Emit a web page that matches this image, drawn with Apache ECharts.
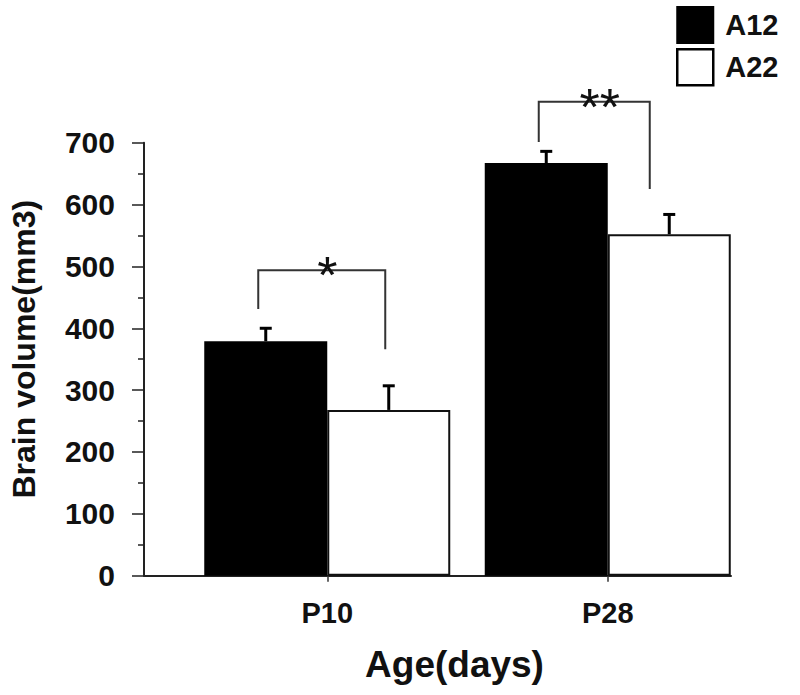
<!DOCTYPE html>
<html>
<head>
<meta charset="utf-8">
<script src="https://cdn.jsdelivr.net/npm/echarts@6/dist/echarts.min.js"></script>
<style>html,body{margin:0;padding:0;background:#fff;}#chart{width:800px;height:695px;}</style>
</head>
<body>
<div id="chart"></div>
<script>
// ---- data ----
var categories = ['P10', 'P28'];
var seriesNames = ['A12', 'A22'];
var a12Values = [379, 667];
var a22Values = [268, 552];
var a12Errors = [21, 19];
var a22Errors = [39, 32];
var yTicks = [0, 100, 200, 300, 400, 500, 600, 700];
// significance brackets: top, left-leg end, right-leg end (in mm3 units)
var bracketTop = [494, 766];
var bracketLeftEnd = [431, 701];
var bracketRightEnd = [366, 625];
var bracketStars = ['*', '**'];

// ---- layout / style config ----
var FONT = '"Liberation Sans", Arial, sans-serif';
var BAR_W = 123;
var GRID_TOP = 142.7, GRID_BOTTOM = 119.3;
var bracketLegOffsets = [[-69, 58], [-69, 42]]; // px from category centre
var starOffsets = [0, -8];

var chart = echarts.init(document.getElementById('chart'), null, {renderer: 'svg'});

function errRender(sign) {
  return function (params, api) {
    var c = api.coord([api.value(0), api.value(1)]);
    var t = api.coord([api.value(0), api.value(1) + api.value(2)]);
    var x = c[0] + sign * BAR_W / 2;
    return {
      type: 'group',
      children: [
        {type: 'line', shape: {x1: x, y1: c[1], x2: x, y2: t[1]}, style: {stroke: '#000', lineWidth: 3}},
        {type: 'line', shape: {x1: x - 6, y1: t[1], x2: x + 6, y2: t[1]}, style: {stroke: '#000', lineWidth: 3}}
      ]
    };
  };
}

function bracketRender(params, api) {
  var i = params.dataIndex;
  var cat = api.value(0);
  var top = api.coord([cat, api.value(1)]);
  var le = api.coord([cat, api.value(2)]);
  var re = api.coord([cat, api.value(3)]);
  var xl = top[0] + bracketLegOffsets[i][0];
  var xr = top[0] + bracketLegOffsets[i][1];
  return {
    type: 'group',
    children: [
      {type: 'polyline', shape: {points: [[xl, le[1]], [xl, top[1]], [xr, top[1]], [xr, re[1]]]},
        style: {stroke: '#333', lineWidth: 2, fill: null}},
      {type: 'text', style: {text: bracketStars[i], x: top[0] + starOffsets[i], y: top[1] + 5,
        align: 'center', verticalAlign: 'middle', font: 'normal 52px ' + FONT, fill: '#111'}}
    ]
  };
}

var option = {
  backgroundColor: '#fff',
  animation: false,
  legend: {
    left: 676, top: 6, padding: 0, orient: 'vertical',
    itemWidth: 36, itemHeight: 36, itemGap: 4,
    icon: 'rect',
    textStyle: {fontFamily: FONT, fontSize: 29, fontWeight: 'bold', color: '#111', padding: [0, 0, 0, 7]},
    data: [
      {name: seriesNames[0], itemStyle: {color: '#000', borderColor: '#000', borderWidth: 2}},
      {name: seriesNames[1], itemStyle: {color: '#fff', borderColor: '#000', borderWidth: 2.5}}
    ]
  },
  grid: [
    {left: 187, right: 52, top: GRID_TOP, bottom: GRID_BOTTOM},
    {left: 141, right: 69, top: GRID_TOP, bottom: GRID_BOTTOM}
  ],
  xAxis: [
    {
      type: 'category', gridIndex: 0, data: categories,
      axisLine: {show: false},
      axisTick: {show: true, alignWithLabel: true, length: 6, lineStyle: {color: '#333', width: 1.5}},
      axisLabel: {fontFamily: FONT, fontSize: 29, fontWeight: 'bold', color: '#111', margin: 23},
      name: 'Age(days)', nameLocation: 'middle', nameGap: 70,
      nameTextStyle: {fontFamily: FONT, fontSize: 37, fontWeight: 'bold', color: '#111', padding: [0, 26, 0, 0]}
    },
    {
      type: 'value', gridIndex: 1, min: 0, max: 1,
      axisLine: {show: true, lineStyle: {color: '#222', width: 2}},
      axisTick: {show: false}, axisLabel: {show: false}, splitLine: {show: false}
    }
  ],
  yAxis: [
    {
      type: 'value', gridIndex: 0, min: 0, max: 700, interval: 100,
      show: false, splitLine: {show: false}
    },
    {
      type: 'value', gridIndex: 1, min: yTicks[0], max: yTicks[yTicks.length - 1], interval: 100,
      axisLine: {show: true, lineStyle: {color: '#222', width: 2}},
      axisTick: {show: true, length: 12, lineStyle: {color: '#222', width: 1.5}},
      minorTick: {show: true, splitNumber: 2, length: 6, lineStyle: {color: '#222', width: 1.5}},
      splitLine: {show: false},
      axisLabel: {fontFamily: FONT, fontSize: 30, fontWeight: 'bold', color: '#111', margin: 29, padding: [10, 0, 0, 0]},
      name: 'Brain volume(mm3)', nameLocation: 'middle', nameGap: 104, nameRotate: 90,
      nameTextStyle: {fontFamily: FONT, fontSize: 32, fontWeight: 'bold', color: '#111', padding: [0, 0, 0, 20]}
    }
  ],
  series: [
    {
      name: seriesNames[0], type: 'bar', xAxisIndex: 0, yAxisIndex: 0,
      data: a12Values, barWidth: BAR_W, barGap: '0%',
      itemStyle: {color: '#000', borderColor: '#000', borderWidth: 0}
    },
    {
      name: seriesNames[1], type: 'bar', xAxisIndex: 0, yAxisIndex: 0,
      data: a22Values, barWidth: BAR_W, barGap: '0%',
      itemStyle: {color: '#fff', borderColor: '#111', borderWidth: 2}
    },
    {
      type: 'custom', xAxisIndex: 0, yAxisIndex: 0, z: 5, clip: false,
      renderItem: errRender(-1),
      data: categories.map(function (c, i) { return [i, a12Values[i], a12Errors[i]]; })
    },
    {
      type: 'custom', xAxisIndex: 0, yAxisIndex: 0, z: 5, clip: false,
      renderItem: errRender(1),
      data: categories.map(function (c, i) { return [i, a22Values[i], a22Errors[i]]; })
    },
    {
      type: 'custom', xAxisIndex: 0, yAxisIndex: 0, z: 5, clip: false,
      renderItem: bracketRender,
      data: categories.map(function (c, i) { return [i, bracketTop[i], bracketLeftEnd[i], bracketRightEnd[i]]; })
    }
  ]
};
chart.setOption(option);
</script>
</body>
</html>
